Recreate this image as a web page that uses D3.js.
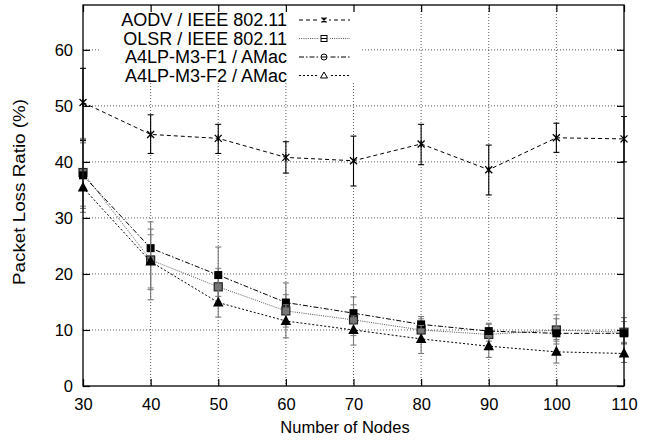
<!DOCTYPE html>
<html>
<head>
<meta charset="utf-8">
<script src="https://cdn.jsdelivr.net/npm/d3@7"></script>
<style>
  body { margin: 0; background: #fff; }
  text { font-family: "Liberation Sans", Arial, sans-serif; fill: #000; }
</style>
</head>
<body>
<div id="chart"></div>
<script>
const nodes = [30, 40, 50, 60, 70, 80, 90, 100, 110];
const yTicks = [0, 10, 20, 30, 40, 50, 60];

const aodvMean = [50.6, 44.9, 44.2, 40.8, 40.2, 43.2, 38.6, 44.3, 44.1];
const aodvLow  = [43.8, 41.5, 41.5, 38.0, 35.7, 39.5, 34.1, 41.7, 40.0];
const aodvHigh = [56.7, 48.4, 46.7, 43.6, 44.6, 46.7, 43.0, 46.9, 48.1];

const olsrMean = [38.1, 22.5, 17.7, 13.4, 11.8, 10.0, 9.2, 10.0, 9.6];
const olsrLow  = [32.1, 17.5, 14.5, 10.5, 9.0, 7.8, 7.3, 8.0, 7.8];
const olsrHigh = [44.2, 27.0, 21.0, 16.3, 14.5, 12.0, 11.0, 12.7, 11.5];

const f1Mean = [37.6, 24.6, 19.8, 14.9, 13.0, 11.0, 9.8, 9.4, 9.4];
const f1Low  = [31.7, 17.2, 16.0, 11.5, 10.0, 8.5, 8.0, 7.5, 7.5];
const f1High = [44.0, 29.3, 24.8, 18.4, 15.9, 12.4, 11.2, 12.0, 12.2];

const f2Mean = [35.4, 22.2, 14.9, 11.6, 10.0, 8.4, 7.1, 6.1, 5.8];
const f2Low  = [31.0, 15.4, 12.3, 8.6, 7.3, 5.8, 5.1, 4.1, 4.2];
const f2High = [43.4, 28.0, 17.5, 14.5, 12.5, 10.8, 9.0, 8.3, 7.6];

const seriesNames = ["AODV / IEEE 802.11", "OLSR / IEEE 802.11", "A4LP-M3-F1 / AMac", "A4LP-M3-F2 / AMac"];

const width = 654, height = 444;
const margin = {top: 5, right: 30, bottom: 58, left: 83};
const iw = width - margin.left - margin.right;
const ih = height - margin.top - margin.bottom;

const x = d3.scaleLinear().domain([30, 110]).range([0, iw]);
const y = d3.scaleLinear().domain([0, 68]).range([ih, 0]);

const svg = d3.select("#chart").append("svg")
  .attr("width", width).attr("height", height);
const g = svg.append("g").attr("transform", `translate(${margin.left},${margin.top})`);

// grid
const grid = g.append("g").attr("stroke", "#000").attr("stroke-width", 0.8)
  .attr("stroke-dasharray", "1,2").attr("opacity", 0.8);
grid.selectAll(".gx").data(nodes.slice(1, -1)).enter().append("line")
  .attr("x1", d => x(d)).attr("x2", d => x(d)).attr("y1", 0).attr("y2", ih);
grid.selectAll(".gy").data(yTicks.slice(1)).enter().append("line")
  .attr("x1", 0).attr("x2", iw).attr("y1", d => y(d)).attr("y2", d => y(d));

const series = [
  {name: seriesNames[0], mean: aodvMean, low: aodvLow, high: aodvHigh, dash: "4,3", sym: "x", errColor: "#000", lineColor: "#000"},
  {name: seriesNames[1], mean: olsrMean, low: olsrLow, high: olsrHigh, dash: "1,1.2", sym: "box", errColor: "#888", lineColor: "#555"},
  {name: seriesNames[2], mean: f1Mean, low: f1Low, high: f1High, dash: "5,2,1.5,2", sym: "fbox", errColor: "#777", lineColor: "#000"},
  {name: seriesNames[3], mean: f2Mean, low: f2Low, high: f2High, dash: "2,2", sym: "ftri", errColor: "#777", lineColor: "#000"}
];

function drawSymbol(sel, sym, cx, cy, s) {
  if (sym === "x") {
    sel.append("path")
      .attr("d", `M${cx - s},${cy - s}L${cx + s},${cy + s}M${cx - s},${cy + s}L${cx + s},${cy - s}M${cx},${cy - s}L${cx},${cy + s}`)
      .attr("stroke", "#000").attr("stroke-width", 1.3).attr("fill", "none");
  } else if (sym === "box") {
    sel.append("rect").attr("x", cx - s).attr("y", cy - s).attr("width", 2 * s).attr("height", 2 * s)
      .attr("fill", "#777").attr("stroke", "#222").attr("stroke-width", 1.2);
  } else if (sym === "fbox") {
    sel.append("rect").attr("x", cx - s).attr("y", cy - s).attr("width", 2 * s).attr("height", 2 * s)
      .attr("fill", "#000");
  } else if (sym === "ftri") {
    sel.append("path")
      .attr("d", `M${cx},${cy - s * 1.1}L${cx + s},${cy + s * 0.8}L${cx - s},${cy + s * 0.8}Z`)
      .attr("fill", "#000").attr("stroke", "#000").attr("stroke-width", 1.5);
  }
}

const line = d3.line().x(d => x(d.n)).y(d => y(d.v));

series.forEach(s => {
  const pts = nodes.map((n, i) => ({n, v: s.mean[i], lo: s.low[i], hi: s.high[i]}));
  const sg = g.append("g");
  // error bars
  const eb = sg.append("g").attr("stroke", s.errColor).attr("stroke-width", 1.1);
  pts.forEach(p => {
    eb.append("line").attr("x1", x(p.n)).attr("x2", x(p.n)).attr("y1", y(p.lo)).attr("y2", y(p.hi));
    eb.append("line").attr("x1", x(p.n) - 3).attr("x2", x(p.n) + 3).attr("y1", y(p.lo)).attr("y2", y(p.lo));
    eb.append("line").attr("x1", x(p.n) - 3).attr("x2", x(p.n) + 3).attr("y1", y(p.hi)).attr("y2", y(p.hi));
  });
  sg.append("path").datum(pts).attr("d", line)
    .attr("fill", "none").attr("stroke", s.lineColor).attr("stroke-width", 1)
    .attr("stroke-dasharray", s.dash);
  pts.forEach(p => drawSymbol(sg, s.sym, x(p.n), y(p.v), s.sym === "x" ? 3.5 : 4));
});

// legend with opaque background
const leg = g.append("g");
leg.append("rect").attr("x", 100 - margin.left).attr("y", 1)
  .attr("width", 360 - 100).attr("height", 83 - margin.top - 1).attr("fill", "#fff");
const legRows = [20, 38.5, 57, 75.5];
series.forEach((s, i) => {
  const ly = legRows[i] - margin.top;
  leg.append("text").attr("x", 287 - margin.left).attr("y", ly).attr("dy", "0.35em")
    .attr("text-anchor", "end").style("font-size", "18px").text(s.name);
  leg.append("line").attr("x1", 299 - margin.left).attr("x2", 350 - margin.left)
    .attr("y1", ly).attr("y2", ly).attr("stroke", s.lineColor).attr("stroke-width", 1)
    .attr("stroke-dasharray", s.dash);
  const lx = 324 - margin.left;
  leg.append("rect").attr("x", lx - 5).attr("y", ly - 5).attr("width", 10).attr("height", 10).attr("fill", "#fff");
  if (s.sym === "x") {
    drawSymbol(leg, "x", lx, ly, 2.5);
  } else if (s.sym === "box") {
    leg.append("rect").attr("x", lx - 3).attr("y", ly - 3).attr("width", 6).attr("height", 6)
      .attr("fill", "none").attr("stroke", "#000");
    leg.append("line").attr("x1", lx - 3).attr("x2", lx + 3).attr("y1", ly).attr("y2", ly).attr("stroke", "#000");
  } else if (s.sym === "fbox") {
    leg.append("circle").attr("cx", lx).attr("cy", ly).attr("r", 3).attr("fill", "none").attr("stroke", "#000");
    leg.append("line").attr("x1", lx - 3).attr("x2", lx + 3).attr("y1", ly).attr("y2", ly).attr("stroke", "#000");
  } else {
    leg.append("path").attr("d", `M${lx},${ly - 3.5}L${lx + 3.5},${ly + 2.5}L${lx - 3.5},${ly + 2.5}Z`)
      .attr("fill", "none").attr("stroke", "#000");
  }
});

// axes with inward ticks (mirrored)
g.append("g").call(d3.axisLeft(y).tickValues(yTicks).tickSize(-7).tickPadding(10));
g.append("g").attr("transform", `translate(0,${ih})`)
  .call(d3.axisBottom(x).tickValues(nodes).tickSize(-7).tickPadding(12));
g.append("g").attr("transform", `translate(${iw},0)`)
  .call(d3.axisRight(y).tickValues(yTicks).tickSize(-7).tickFormat(""));
g.append("g").call(d3.axisTop(x).tickValues(nodes).tickSize(-7).tickFormat(""));
g.selectAll(".domain").remove();
g.selectAll(".tick line").attr("stroke", "#000").attr("stroke-width", 1.2);
g.selectAll(".tick text").style("font-size", "16.5px").style("font-family", "Liberation Sans, Arial, sans-serif");

g.append("rect").attr("width", iw).attr("height", ih)
  .attr("fill", "none").attr("stroke", "#000").attr("stroke-width", 1.3);

// axis titles
svg.append("text").attr("x", 345).attr("y", 433)
  .attr("text-anchor", "middle").style("font-size", "16.5px").text("Number of Nodes");
svg.append("text").attr("transform", `translate(25,192) rotate(-90)`)
  .attr("text-anchor", "middle").style("font-size", "16.5px")
  .attr("textLength", 186).attr("lengthAdjust", "spacingAndGlyphs")
  .text("Packet Loss Ratio (%)");
</script>
</body>
</html>
